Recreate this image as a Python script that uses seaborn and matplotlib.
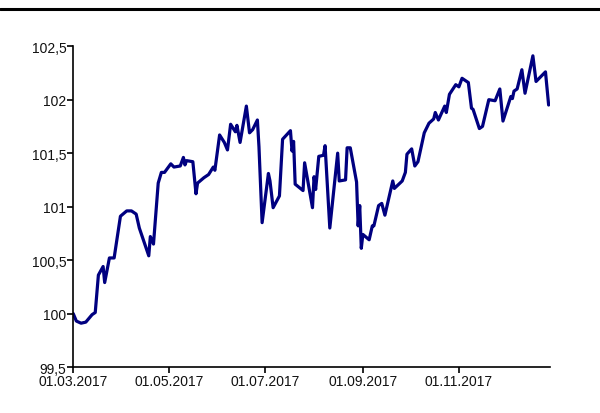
import matplotlib
matplotlib.use("Agg")
import matplotlib.pyplot as plt
import matplotlib.dates as mdates
from matplotlib.lines import Line2D
from matplotlib.ticker import FuncFormatter
import seaborn as sns
import pandas as pd

dates = [
    "2017-03-01", "2017-03-03", "2017-03-06", "2017-03-09", "2017-03-13", "2017-03-15",
    "2017-03-17", "2017-03-20", "2017-03-21", "2017-03-24", "2017-03-27", "2017-03-31",
    "2017-04-04", "2017-04-07", "2017-04-10", "2017-04-12", "2017-04-18", "2017-04-19",
    "2017-04-21", "2017-04-24", "2017-04-26", "2017-04-28", "2017-05-02", "2017-05-04",
    "2017-05-08", "2017-05-10", "2017-05-11", "2017-05-12", "2017-05-16", "2017-05-18",
    "2017-05-19", "2017-05-23", "2017-05-26", "2017-05-29", "2017-05-30", "2017-06-02",
    "2017-06-05", "2017-06-07", "2017-06-09", "2017-06-12", "2017-06-13", "2017-06-15",
    "2017-06-19", "2017-06-21", "2017-06-23", "2017-06-26", "2017-06-27", "2017-06-29",
    "2017-07-03", "2017-07-04", "2017-07-06", "2017-07-10", "2017-07-12", "2017-07-17",
    "2017-07-18", "2017-07-19", "2017-07-20", "2017-07-25", "2017-07-26", "2017-07-31",
    "2017-08-01", "2017-08-02", "2017-08-04", "2017-08-07", "2017-08-08", "2017-08-11",
    "2017-08-16", "2017-08-17", "2017-08-21", "2017-08-22", "2017-08-24", "2017-08-28",
    "2017-08-29", "2017-08-30", "2017-08-31", "2017-09-01", "2017-09-05", "2017-09-07",
    "2017-09-08", "2017-09-11", "2017-09-13", "2017-09-15", "2017-09-20", "2017-09-21",
    "2017-09-26", "2017-09-28", "2017-09-29", "2017-10-02", "2017-10-04", "2017-10-06",
    "2017-10-10", "2017-10-13", "2017-10-16", "2017-10-17", "2017-10-19", "2017-10-23",
    "2017-10-24", "2017-10-26", "2017-10-30", "2017-11-01", "2017-11-03", "2017-11-07",
    "2017-11-09", "2017-11-10", "2017-11-14", "2017-11-16", "2017-11-20", "2017-11-24",
    "2017-11-27", "2017-11-29", "2017-12-04", "2017-12-05", "2017-12-06", "2017-12-08",
    "2017-12-11", "2017-12-13", "2017-12-18", "2017-12-20", "2017-12-26", "2017-12-28",
]
values = [
    100.00, 99.93, 99.91, 99.92, 99.99, 100.01,
    100.36, 100.44, 100.29, 100.52, 100.52, 100.91,
    100.96, 100.96, 100.93, 100.80, 100.54, 100.72,
    100.65, 101.22, 101.32, 101.32, 101.40, 101.37,
    101.38, 101.46, 101.39, 101.43, 101.42, 101.12,
    101.22, 101.27, 101.30, 101.37, 101.34, 101.67,
    101.60, 101.53, 101.77, 101.70, 101.76, 101.60,
    101.94, 101.69, 101.72, 101.81, 101.56, 100.85,
    101.31, 101.24, 100.99, 101.10, 101.63, 101.71,
    101.52, 101.61, 101.21, 101.15, 101.41, 100.99,
    101.28, 101.16, 101.47, 101.48, 101.57, 100.80,
    101.50, 101.24, 101.25, 101.55, 101.55, 101.23,
    100.82, 101.01, 100.61, 100.74, 100.69, 100.82,
    100.82, 101.01, 101.03, 100.92, 101.24, 101.17,
    101.24, 101.32, 101.49, 101.54, 101.38, 101.42,
    101.69, 101.78, 101.82, 101.88, 101.81, 101.94,
    101.88, 102.05, 102.14, 102.12, 102.20, 102.16,
    101.92, 101.91, 101.73, 101.75, 102.00, 101.99,
    102.10, 101.80, 102.03, 102.01, 102.08, 102.10,
    102.28, 102.06, 102.41, 102.17, 102.26, 101.95,
]
x_ticks = ["2017-03-01", "2017-05-01", "2017-07-01", "2017-09-01", "2017-11-01"]
y_ticks = [99.5, 100, 100.5, 101, 101.5, 102, 102.5]

df = pd.DataFrame({"date": pd.to_datetime(dates), "value": values})

sns.set_theme(style="ticks")
plt.rcParams["font.family"] = ["Liberation Sans", "DejaVu Sans"]

fig = plt.figure(figsize=(6.0, 4.14), dpi=100)
ax = fig.add_axes([0.122, 0.111, 0.795, 0.775])

sns.lineplot(data=df, x="date", y="value", ax=ax, color="#000080", linewidth=2.3)

ax.set_xlim(pd.Timestamp("2017-03-01"), pd.Timestamp("2017-12-29"))
ax.set_ylim(99.5, 102.5)
ax.set_xticks(pd.to_datetime(x_ticks))
ax.xaxis.set_major_formatter(mdates.DateFormatter("%d.%m.%Y"))
ax.set_yticks(y_ticks)
ax.yaxis.set_major_formatter(FuncFormatter(lambda v, p: f"{v:g}".replace(".", ",")))

ax.set_xlabel("")
ax.set_ylabel("")
sns.despine(ax=ax)
for s in ["left", "bottom"]:
    ax.spines[s].set_color("black")
    ax.spines[s].set_linewidth(1.2)
ax.tick_params(axis="both", direction="out", length=4, width=1.2, color="black",
               labelsize=10, labelcolor="#111111", pad=1)

fig.add_artist(Line2D([0, 1], [0.976, 0.976], transform=fig.transFigure,
                      color="black", linewidth=2.2))

fig.savefig("out.png", dpi=100)
